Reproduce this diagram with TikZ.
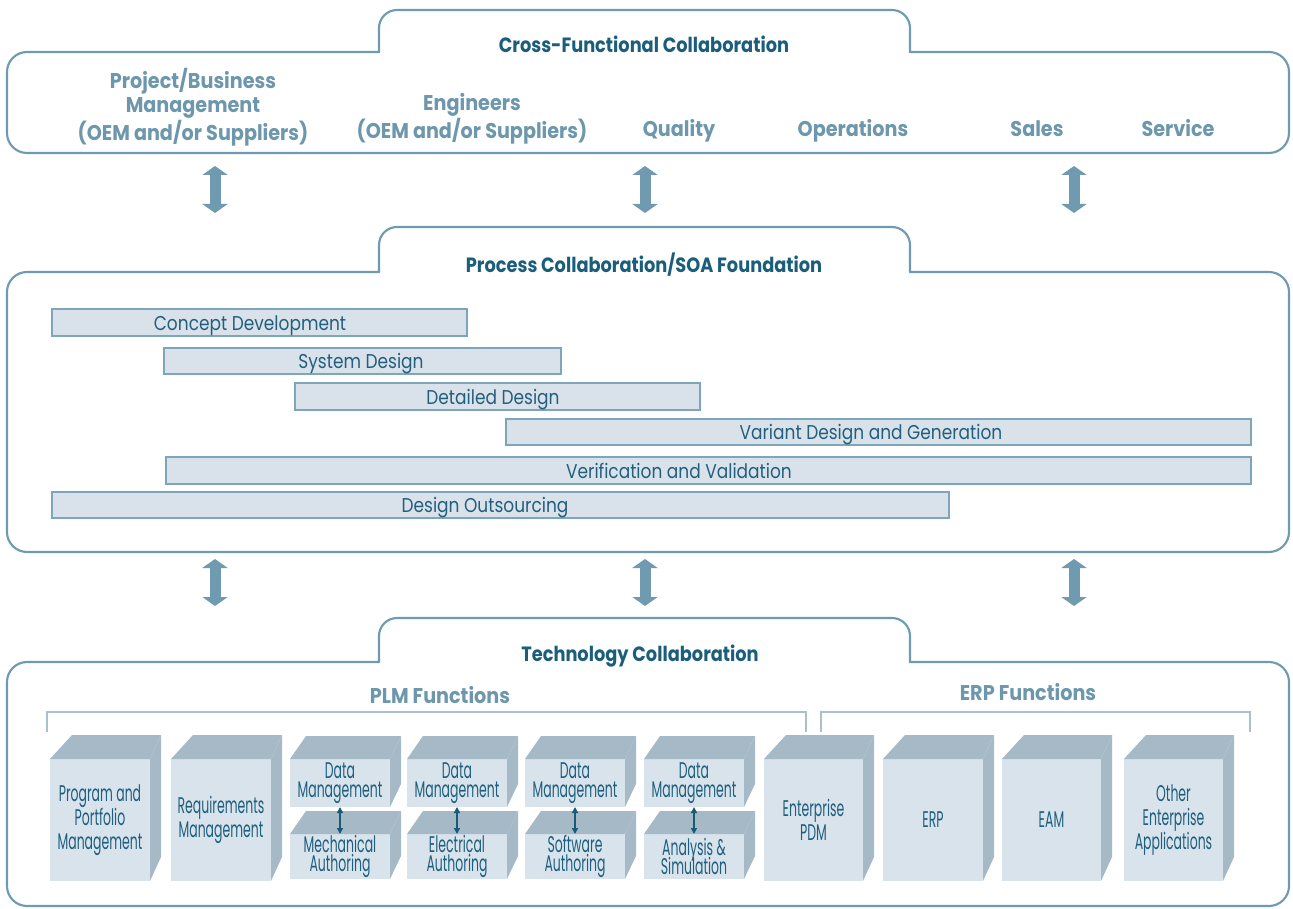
\documentclass[tikz,border=0pt]{standalone}
\usepackage{fontspec}
\setmainfont{Poppins}
\newfontfamily\headfont[FakeStretch=0.86]{Poppins}
\newfontfamily\rolefont[FakeStretch=0.9]{Poppins}
\newfontfamily\barfont[FakeStretch=0.85]{Poppins}
\newfontfamily\cubefont[FakeStretch=0.55]{Poppins}
\usetikzlibrary{arrows.meta,calc}
\definecolor{frameline}{HTML}{6E9BB1}
\definecolor{titlecol}{HTML}{1B5E7B}
\definecolor{labelcol}{HTML}{6D97AC}
\definecolor{barfill}{HTML}{D9E2EA}
\definecolor{barline}{HTML}{7EA6B9}
\definecolor{bartextcol}{HTML}{235F7C}
\definecolor{cubefrontcol}{HTML}{D8E3EC}
\definecolor{cubesidecol}{HTML}{A5BAC6}
\definecolor{cubetextcol}{HTML}{1F5F7E}
\definecolor{arrowcol}{HTML}{6F9AB0}
\definecolor{bracketcol}{HTML}{A8C1CD}
\definecolor{smallarrowcol}{HTML}{1A5A77}
\tikzset{
  frame/.style={draw=frameline, line width=1.6pt, line cap=round, line join=round},
  title/.style={font=\headfont\bfseries\fontsize{15.5}{18}\selectfont, text=titlecol, inner sep=0pt, anchor=mid},
  role/.style={font=\rolefont\bfseries\fontsize{16}{18}\selectfont, text=labelcol, inner sep=0pt, align=center},
  roleone/.style={font=\rolefont\bfseries\fontsize{16}{18}\selectfont, text=labelcol, inner sep=0pt, anchor=mid},
  bar/.style={draw=barline, line width=1.1pt, fill=barfill, inner sep=0pt},
  bartext/.style={font=\barfont\fontsize{15}{18}\selectfont, text=bartextcol, inner sep=0pt, anchor=mid},
  cubefront/.style={fill=cubefrontcol, inner sep=0pt, outer sep=0pt, align=center, text=cubetextcol,
     font={\cubefont\fontsize{17}{18}\selectfont\lineskiplimit=-20pt}},
  smallcubefront/.style={cubefront, font={\cubefont\fontsize{17}{14.25}\selectfont\lineskiplimit=-20pt}},
  cubeside/.style={fill=cubesidecol},
  bigarrow/.style={draw=arrowcol, line width=8.25pt,
     {Triangle[length=6.75pt,width=18.75pt]}-{Triangle[length=6.75pt,width=18.75pt]}},
  smallarrow/.style={draw=smallarrowcol, line width=1.2pt,
     {Triangle[length=4.5pt,width=4.5pt]}-{Triangle[length=4.5pt,width=4.5pt]}},
  bracket/.style={draw=bracketcol, line width=1.4pt}
}
\newcommand\collabframe[3]{%
  \draw[frame, rounded corners=13.5pt] (379,#1) -- (379,#2) -- (910,#2) -- (910,#1);
  \draw[frame, rounded corners=15pt] (910,#1) -- (1289,#1) -- (1289,#3) -- (7,#3) -- (7,#1) -- (379,#1);
}
\newcommand\procbar[7]{%
  \node[bar, minimum width={(#4-#2)*0.75pt}, minimum height={(#5-#3)*0.75pt}] (#1) at ({(#2+#4)/2},{(#3+#5)/2}) {};
  \node[bartext] (#1t) at (#6,{(#3+#5)/2+4}) {#7};
}
\newcommand\bigcube[6]{%
  \node[cubefront, minimum width={(#3-#2)*0.75pt}, minimum height={(#5-#4)*0.75pt}] (#1) at ({(#2+#3)/2},{(#4+#5)/2}) {#6};
  \fill[cubeside] (#1.north west) -- ++(22,-24) -- ($(#1.north east)+(11,-24)$) -- (#1.north east) -- cycle;
  \fill[cubeside] (#1.north east) -- ++(11,-24) -- ($(#1.south east)+(11,-24)$) -- (#1.south east) -- cycle;
}
\newcommand\smallcube[6]{%
  \node[smallcubefront, minimum width={(#3-#2)*0.75pt}, minimum height={(#5-#4)*0.75pt}] (#1) at ({(#2+#3)/2},{(#4+#5)/2}) {#6};
  \fill[cubeside] (#1.north west) -- ++(16,-23) -- ($(#1.north east)+(11,-23)$) -- (#1.north east) -- cycle;
  \fill[cubeside] (#1.north east) -- ++(11,-23) -- ($(#1.south east)+(11,-23)$) -- (#1.south east) -- cycle;
}
\begin{document}
\begin{tikzpicture}[x=0.75pt,y=-0.75pt]
\useasboundingbox (0,0) rectangle (1293,909);
\fill[white] (0,0) rectangle (1293,909);

% ---------- frames ----------
\collabframe{52}{10}{153}
\collabframe{272}{227}{552}
\collabframe{662}{618}{906}

\node[title] (t1) at (644,49) {Cross-Functional Collaboration};
\node[title] (t2) at (644,269) {Process Collaboration/SOA Foundation};
\node[title] (t3) at (640,658) {Technology Collaboration};

% ---------- roles ----------
\node[role] (r1) at (193,107) {Project/Business\\Management\\(OEM and/or Suppliers)};
\node[role] (r2) at (472,119) {Engineers\\(OEM and/or Suppliers)};
\node[roleone] (r3) at (679,133) {Quality};
\node[roleone] (r4) at (853,133) {Operations};
\node[roleone] (r5) at (1037,133) {Sales};
\node[roleone] (r6) at (1178,133) {Service};

% ---------- big arrows ----------
\foreach \i/\x in {1/215,2/645,3/1074}{
  \coordinate (up\i) at (\x,166);
  \coordinate (dn\i) at (\x,213);
  \draw[bigarrow] (up\i) -- (dn\i);
  \coordinate (upb\i) at (\x,559);
  \coordinate (dnb\i) at (\x,606);
  \draw[bigarrow] (upb\i) -- (dnb\i);
}

% ---------- process bars ----------
\procbar{b1}{52}{309}{467}{336}{250}{Concept Development}
\procbar{b2}{164}{348}{561}{374}{361}{System Design}
\procbar{b3}{295}{383}{700}{410}{493}{Detailed Design}
\procbar{b4}{506}{419}{1251}{445}{871}{Variant Design and Generation}
\procbar{b5}{166}{457}{1251}{484}{679}{Verification and Validation}
\procbar{b6}{52}{492}{949}{518}{485}{Design Outsourcing}

% ---------- function groups ----------
\node[roleone] (plm) at (440,700) {PLM Functions};
\node[roleone] (erp) at (1028,697) {ERP Functions};
\draw[bracket] (47,732) -- (47,712) -- (806,712) -- (806,732);
\draw[bracket] (821,732) -- (821,712) -- (1250,712) -- (1250,732);

% ---------- cubes ----------
\bigcube{c1}{50}{150}{759}{881}{Program and\\Portfolio\\Management}
\bigcube{c2}{171}{271}{759}{881}{Requirements\\Management}

\smallcube{d1}{290}{390}{759}{807}{Data\\Management}
\smallcube{m1}{290}{390}{834}{879}{Mechanical\\Authoring}
\draw[smallarrow] (d1.south) -- (m1.north);

\smallcube{d2}{407}{507}{759}{807}{Data\\Management}
\smallcube{m2}{407}{507}{834}{879}{Electrical\\Authoring}
\draw[smallarrow] (d2.south) -- (m2.north);

\smallcube{d3}{525}{625}{759}{807}{Data\\Management}
\smallcube{m3}{525}{625}{834}{879}{Software\\Authoring}
\draw[smallarrow] (d3.south) -- (m3.north);

\smallcube{d4}{644}{744}{759}{807}{Data\\Management}
\smallcube{m4}{644}{744}{834}{879}{Analysis \&\\Simulation}
\draw[smallarrow] (d4.south) -- (m4.north);

\bigcube{pdm}{764}{863}{759}{881}{Enterprise\\PDM}
\bigcube{erpc}{883}{983}{759}{881}{ERP}
\bigcube{eam}{1002}{1101}{759}{881}{EAM}
\bigcube{oth}{1124}{1223}{759}{881}{Other\\Enterprise\\Applications}
\end{tikzpicture}
\end{document}
